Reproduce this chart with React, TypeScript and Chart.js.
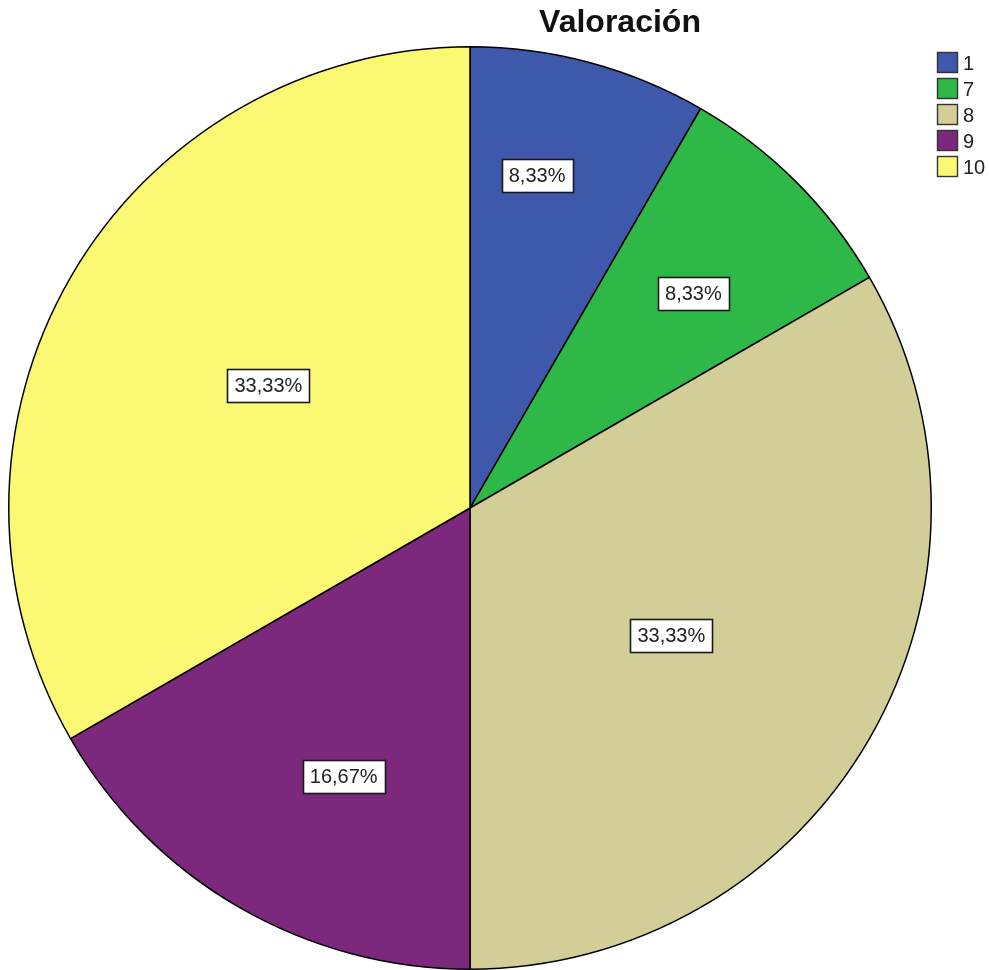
import React, { useEffect, useRef } from "react";
import { Chart, registerables } from "chart.js";

Chart.register(...registerables);

// ---- data ----
const title = "Valoración";
const categories = ["1", "7", "8", "9", "10"];
const counts = [1, 1, 4, 2, 4];
const colors = ["#3E58AC", "#2EB848", "#D3CE97", "#7C287D", "#FBF873"];

// ---- label layout (fraction of slice angle / fraction of radius) ----
const LABEL_ANGLE_FRAC = [0.38, 0.54, 0.52, 0.42, 0.51];
const LABEL_RADIUS_FRAC = [0.736, 0.671, 0.517, 0.643, 0.511];

const total = counts.reduce((a, b) => a + b, 0);
const percentLabels = counts.map((c) => ((c / total) * 100).toFixed(2).replace(".", ",") + "%");

const FONT = "Arial, 'Liberation Sans', Helvetica, sans-serif";

const overlayPlugin = {
  id: "spssOverlay",
  afterDraw(chart: any) {
    const ctx: CanvasRenderingContext2D = chart.ctx;
    ctx.save();
    // slice labels
    const meta = chart.getDatasetMeta(0);
    ctx.font = `20px ${FONT}`;
    ctx.textAlign = "center";
    ctx.textBaseline = "middle";
    meta.data.forEach((arc: any, i: number) => {
      const p = arc.getProps(["x", "y", "startAngle", "endAngle", "outerRadius"], true);
      const a = p.startAngle + (p.endAngle - p.startAngle) * LABEL_ANGLE_FRAC[i];
      const r = p.outerRadius * LABEL_RADIUS_FRAC[i];
      const cx = p.x + Math.cos(a) * r;
      const cy = p.y + Math.sin(a) * r;
      const txt = percentLabels[i];
      const tw = ctx.measureText(txt).width;
      const w = Math.round(tw + 14);
      const h = 33;
      const bx = Math.round(cx - w / 2) + 0.5;
      const by = Math.round(cy - h / 2) + 0.5;
      ctx.fillStyle = "#ffffff";
      ctx.fillRect(bx, by, w, h);
      ctx.lineWidth = 1.6;
      ctx.strokeStyle = "#1a1a1a";
      ctx.strokeRect(bx, by, w, h);
      ctx.fillStyle = "#222222";
      ctx.fillText(txt, cx, cy + 1);
    });

    // title
    ctx.font = `bold 32px ${FONT}`;
    ctx.fillStyle = "#111111";
    ctx.textAlign = "center";
    ctx.textBaseline = "alphabetic";
    ctx.fillText(title, 620, 32);

    // legend
    ctx.font = `20px ${FONT}`;
    ctx.textAlign = "left";
    ctx.textBaseline = "middle";
    categories.forEach((cat, i) => {
      const top = 52 + i * 26;
      ctx.fillStyle = colors[i];
      ctx.fillRect(937.5, top + 0.5, 20, 20);
      ctx.lineWidth = 1.4;
      ctx.strokeStyle = "#333333";
      ctx.strokeRect(937.5, top + 0.5, 20, 20);
      ctx.fillStyle = "#222222";
      ctx.fillText(cat, 963, top + 12);
    });
    ctx.restore();
  },
};

export default function App() {
  const ref = useRef<HTMLCanvasElement | null>(null);
  useEffect(() => {
    document.body.style.margin = "0";
    if (!ref.current) return;
    const chart = new Chart(ref.current, {
      type: "pie",
      data: {
        labels: categories,
        datasets: [
          {
            data: counts,
            backgroundColor: colors,
            borderColor: "#000000",
            borderWidth: 1.5,
            hoverOffset: 0,
          },
        ],
      },
      options: {
        responsive: false,
        animation: false,
        events: [],
        layout: { padding: { left: 8, top: 46, right: 57, bottom: 0 } },
        plugins: {
          legend: { display: false },
          title: { display: false },
          tooltip: { enabled: false },
        },
      },
      plugins: [overlayPlugin],
    });
    return () => chart.destroy();
  }, []);
  return (
    <div style={{ position: "absolute", left: 0, top: 0, width: 989, height: 970, background: "#fff" }}>
      <canvas ref={ref} width={989} height={970} style={{ width: 989, height: 970, display: "block" }} />
    </div>
  );
}
